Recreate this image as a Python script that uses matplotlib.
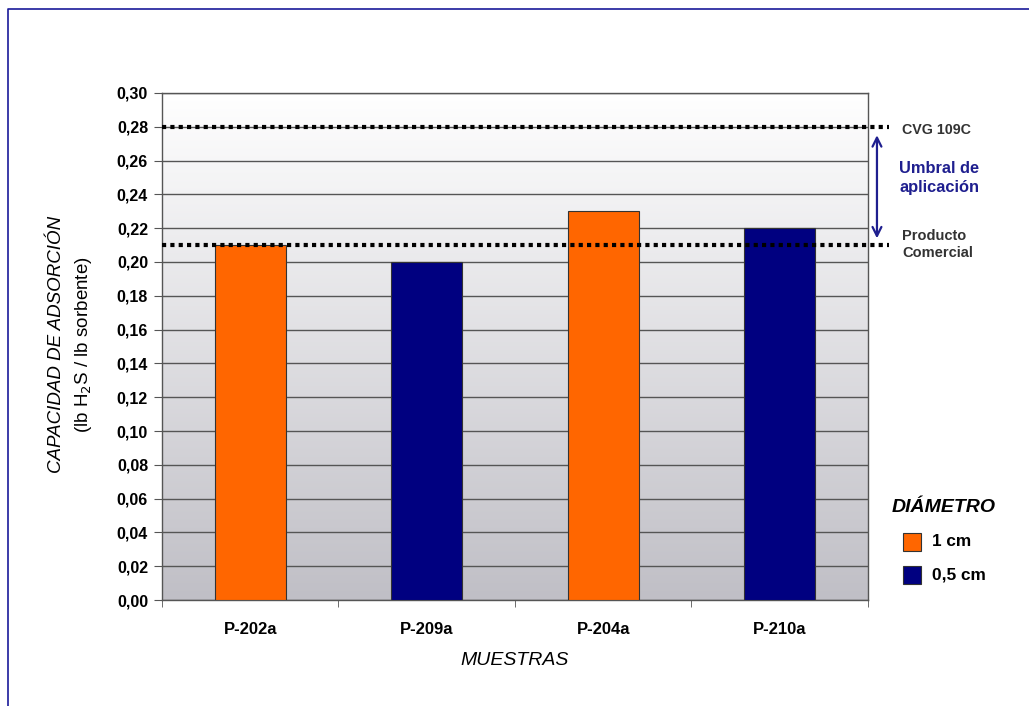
import numpy as np
import matplotlib.pyplot as plt
from matplotlib.lines import Line2D
from matplotlib.patches import Rectangle

plt.rcParams['font.family'] = ['Liberation Sans', 'DejaVu Sans']

# datos
muestras = ['P-202a', 'P-209a', 'P-204a', 'P-210a']
capacidad = [0.21, 0.20, 0.23, 0.22]
diametro = ['1 cm', '0,5 cm', '1 cm', '0,5 cm']
colores_diam = {'1 cm': '#FF6600', '0,5 cm': '#000080'}
ref_cvg = 0.28
ref_comercial = 0.21
yticks = np.arange(0, 0.301, 0.02)

fig = plt.figure(figsize=(10.29, 7.06), dpi=100)
ax = fig.add_axes([0.1574, 0.1501, 0.6861, 0.7182])

# fondo degradado blanco -> gris
grad = np.linspace(0, 1, 256).reshape(-1, 1)
ax.imshow(grad, extent=(-0.5, 3.5, 0, 0.30), origin='lower', aspect='auto',
          cmap=plt.matplotlib.colors.LinearSegmentedColormap.from_list(
              'fondo', ['#C0BFC6', '#FFFFFF']), zorder=0)

x = np.arange(len(muestras))
for xi, v, d in zip(x, capacidad, diametro):
    ax.bar(xi, v, width=0.4, color=colores_diam[d], edgecolor='#333333',
           linewidth=0.8, zorder=3)

ax.set_xlim(-0.5, 3.5)
ax.set_ylim(0, 0.30)
ax.set_yticks(yticks)
ax.set_yticklabels([f'{t:.2f}'.replace('.', ',') for t in yticks],
                   fontsize=11.5, fontweight='bold')
ax.set_xticks(x)
ax.set_xticklabels(muestras, fontsize=12, fontweight='bold')
ax.set_xticks(np.arange(-0.5, 3.6, 1), minor=True)
ax.tick_params(axis='x', which='major', length=0, pad=16)
ax.tick_params(axis='x', which='minor', length=5, color='#555555')
ax.tick_params(axis='y', length=6, color='#555555', pad=4)
ax.grid(axis='y', color='#555555', linewidth=1.0, zorder=1)
for s in ax.spines.values():
    s.set_color('#555555')
    s.set_linewidth(1.0)

# lineas de referencia punteadas
for yref in (ref_cvg, ref_comercial):
    ax.plot([-0.5, 3.62], [yref, yref], color='black', linestyle=(0, (1, 1)),
            linewidth=3, clip_on=False, zorder=4)

# flecha del umbral
ax.annotate('', xy=(3.551, ref_comercial + 0.004), xytext=(3.551, ref_cvg - 0.005),
            xycoords='data', annotation_clip=False,
            arrowprops=dict(arrowstyle='<->', color='#1F1F8F', lw=1.6,
                            mutation_scale=16, shrinkA=0, shrinkB=0))

fig.text(0.8766, 0.816, 'CVG 109C', fontsize=10.3, fontweight='bold',
         color='#333333', va='center')
fig.text(0.8737, 0.748, 'Umbral de\naplicación', fontsize=11.8, fontweight='bold',
         color='#1F1F8F', va='center', linespacing=1.3)
fig.text(0.8766, 0.6537, 'Producto\nComercial', fontsize=10.5, fontweight='bold',
         color='#333333', va='center', linespacing=1.2)

# titulos de ejes
fig.text(0.055, 0.512, 'CAPACIDAD DE ADSORCIÓN', rotation=90, fontsize=13.5,
         style='italic', ha='center', va='center')
fig.text(0.081, 0.512, '(lb H$_2$S / lb sorbente)', rotation=90, fontsize=13.5,
         ha='center', va='center')
fig.text(0.50, 0.065, 'MUESTRAS', fontsize=14, style='italic',
         ha='center', va='center')

# leyenda
fig.text(0.8669, 0.2805, 'DIÁMETRO', fontsize=14, fontweight='bold',
         style='italic', va='center')
for i, lab in enumerate(['1 cm', '0,5 cm']):
    yy = 0.2323 - i * 0.0467
    fig.patches.append(Rectangle((0.8776, yy - 0.0128), 0.0175, 0.0255,
                                 transform=fig.transFigure,
                                 facecolor=colores_diam[lab],
                                 edgecolor='#333333', linewidth=0.8))
    fig.text(0.9057, yy, lab, fontsize=12.4, fontweight='bold', va='center')

# marco exterior
fig.lines.append(Line2D([0.008, 0.008, 1.0], [0.0, 0.987, 0.987],
                        transform=fig.transFigure, color='#1A1A9A',
                        linewidth=1.2))

fig.savefig('out.png', dpi=100)
